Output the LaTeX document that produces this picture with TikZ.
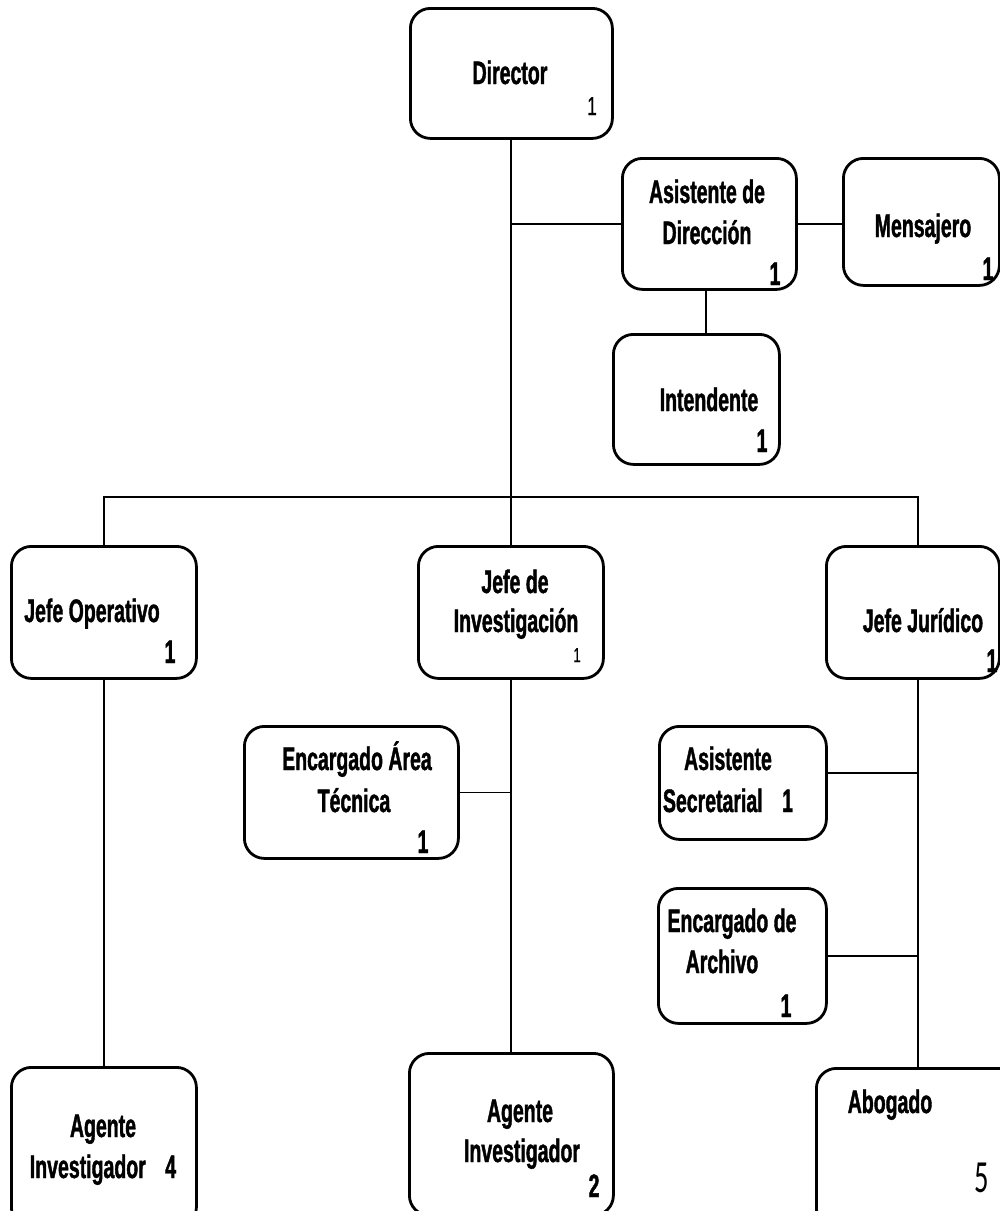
\documentclass[tikz,border=0pt]{standalone}
\usepackage{fontspec}
\setmainfont{Liberation Sans}
\newfontfamily\boxfont[FakeStretch=0.66,FakeBold=0.6]{Liberation Sans}
\newfontfamily\boxbold[FakeStretch=0.6,FakeBold=1.2]{Liberation Sans Bold}
\newfontfamily\fivefont[FakeStretch=0.62]{Carlito}
\begin{document}
\begin{tikzpicture}[x=1pt,y=-1pt,
  box/.style={draw, line width=2.8pt, rounded corners=20pt, anchor=north west, inner sep=0pt},
  conn/.style={draw, line width=1.3pt},
  lbl/.style={font=\boxbold\fontsize{32.5}{41}\selectfont, anchor=base, inner sep=0pt},
  numA/.style={font=\boxfont\fontsize{26}{28}\selectfont, anchor=base, inner sep=0pt},
  numB/.style={font=\boxfont\fontsize{20}{22}\selectfont, anchor=base, inner sep=0pt},
  numC/.style={font=\fivefont\fontsize{46}{50}\selectfont, anchor=base, inner sep=0pt}]
\useasboundingbox (0,0) rectangle (1000,1211);
\clip (0,0) rectangle (1000,1211);
% boxes
\node[box, minimum width=202pt, minimum height=130pt] (dir) at (409,7) {};
\node[box, minimum width=174pt, minimum height=131pt] (asis) at (621,157) {};
\node[box, minimum width=156pt, minimum height=127pt] (mens) at (842,157) {};
\node[box, minimum width=166pt, minimum height=130pt] (inte) at (612,333) {};
\node[box, minimum width=185pt, minimum height=132pt] (jop) at (10,545) {};
\node[box, minimum width=185pt, minimum height=132pt] (jinv) at (417,545) {};
\node[box, minimum width=173pt, minimum height=132pt] (jjur) at (825,545) {};
\node[box, minimum width=214pt, minimum height=132pt] (earea) at (243,725) {};
\node[box, minimum width=167pt, minimum height=113pt] (asec) at (658,725) {};
\node[box, minimum width=168pt, minimum height=135pt] (earch) at (657,887) {};
\node[box, minimum width=185pt, minimum height=160pt] (ag4) at (10,1066) {};
\node[box, minimum width=204pt, minimum height=162pt] (ag2) at (408,1052) {};
\node[box, minimum width=210pt, minimum height=160pt] (abog) at (815,1067) {};
% connector helpers
\coordinate (trunk) at (511,0);
\coordinate (jurline) at (918,497);
\coordinate (opline) at (104,497);
% connectors
\draw[conn] (dir.south -| trunk) -- (jinv.north -| trunk);
\draw[conn] (asis.west -| trunk) -- (asis.west);
\draw[conn] (asis.east) -- (mens.west |- asis.east);
\draw[conn] (asis.south -| 706,0) -- (inte.north -| 706,0);
\draw[conn] (jop.north -| opline) -- (opline) -- (jurline) -- (jjur.north -| jurline);
\draw[conn] (jop.south -| opline) -- (ag4.north -| opline);
\draw[conn] (jinv.south -| trunk) -- (ag2.north -| trunk);
\draw[conn] (earea.east) -- (earea.east -| trunk);
\draw[conn] (jjur.south -| jurline) -- (abog.north -| jurline);
\draw[conn] (asec.east |- 0,773) -- (jurline |- 0,773);
\draw[conn] (earch.east) -- (earch.east -| jurline);
% labels
\node[lbl] (tdir) at (510,84) {Director};
\node[numA] (ndir) at (592,115) {1};
\node[lbl] (tasis1) at (707,203) {Asistente de};
\node[lbl] (tasis2) at (707,244) {Dirección};
\node[lbl] (nasis) at (775,285) {1};
\node[lbl] (tmens) at (923,237) {Mensajero};
\node[lbl] (nmens) at (988,280) {1};
\node[lbl] (tinte) at (709,411) {Intendente};
\node[lbl] (ninte) at (762,452) {1};
\node[lbl] (tjop) at (92,622) {Jefe Operativo};
\node[lbl] (njop) at (170,663) {1};
\node[lbl] (tjinv1) at (515,593) {Jefe de};
\node[lbl] (tjinv2) at (516,632) {Investigación};
\node[numB] (njinv) at (577,662) {1};
\node[lbl] (tjjur) at (923,632) {Jefe Jurídico};
\node[lbl] (njjur) at (992,672) {1};
\node[lbl] (tearea1) at (357,770) {Encargado Área};
\node[lbl] (tearea2) at (354,812) {Técnica};
\node[lbl] (nearea) at (423,853) {1};
\node[lbl] (tasec1) at (728,770) {Asistente};
\node[lbl] (tasec2) at (728,812) {Secretarial\hspace{0.6em}1};
\node[lbl] (tearch1) at (732,932) {Encargado de};
\node[lbl] (tearch2) at (722,973) {Archivo};
\node[lbl] (nearch) at (786,1017) {1};
\node[lbl] (tag41) at (103,1137) {Agente};
\node[lbl] (tag42) at (103,1178) {Investigador\hspace{0.6em}4};
\node[lbl] (tag21) at (520,1122) {Agente};
\node[lbl] (tag22) at (522,1162) {Investigador};
\node[lbl] (nag2) at (594,1197) {2};
\node[lbl] (tabog) at (890,1113) {Abogado};
\node[numC] (nabog) at (982,1192) {5};
\end{tikzpicture}
\end{document}
